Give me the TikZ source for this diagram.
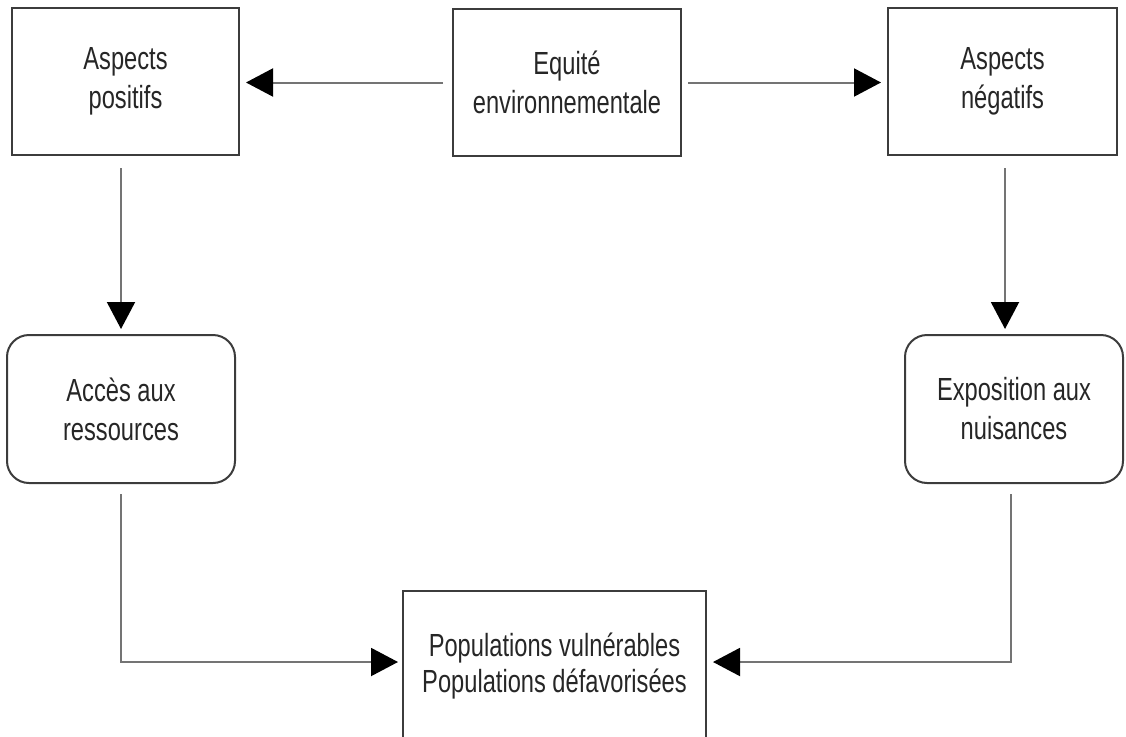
\documentclass[tikz,border=0pt]{standalone}
\usepackage{fontspec}
\setmainfont{Liberation Sans}[FakeStretch=0.74]
\usepackage{tikz}
\usetikzlibrary{arrows.meta}
\definecolor{boxgray}{HTML}{3C3C3C}
\definecolor{linkgray}{HTML}{747474}
\definecolor{txtgray}{HTML}{262626}

\begin{document}
\begin{tikzpicture}[x=1pt, y=-1pt,
  box/.style={draw=boxgray, line width=2pt, inner sep=0pt, align=center,
    text=txtgray, font=\fontsize{32}{39}\selectfont},
  rbox/.style={box, rounded corners=22pt},
  link/.style={draw=linkgray, line width=2pt,
    -{Triangle[length=27pt, width=28pt, color=black]}}]
  \useasboundingbox (0, 0) rectangle (1126, 736);
  \clip (0, 0) rectangle (1126, 736);
  % boxes
  \node[box, minimum width=227pt, minimum height=147pt] (pos) at (125.5, 81.5) {Aspects\\positifs};
  \node[box, minimum width=228pt, minimum height=147pt] (equite) at (567, 82.5) {Equité\\environnementale};
  \node[box, minimum width=229pt, minimum height=147pt] (neg) at (1002.5, 81.5) {Aspects\\négatifs};
  \node[rbox, minimum width=228pt, minimum height=148pt] (acces) at (121, 409) {Accès aux\\ressources};
  \node[rbox, minimum width=218pt, minimum height=148pt] (expo) at (1014, 409) {Exposition aux\\nuisances};
  \node[box, minimum width=303pt, minimum height=160pt, text depth=0pt] (pop) at (554.5, 671)
    {\raisebox{16pt}{\shortstack{Populations vulnérables\\[3pt]Populations défavorisées}}};
  % arrows
  \draw[link, shorten <=9pt, shorten >=6pt] (equite.west) -- (equite.west -| pos.east);
  \draw[link, shorten <=6pt, shorten >=6pt] (equite.east) -- (equite.east -| neg.west);
  \draw[link, shorten <=12pt, shorten >=5pt] (acces.north |- pos.south) -- (acces.north);
  \draw[link, shorten <=12pt, shorten >=5pt] ([xshift=2.5pt]neg.south) -- ([xshift=2.5pt]neg.south |- expo.north);
  \draw[link, shorten <=10pt, shorten >=4pt] (acces.south) |- ([yshift=9pt]pop.west);
  \draw[link, shorten <=10pt, shorten >=6pt] ([xshift=-3pt]expo.south) |- ([yshift=9pt]pop.east);
\end{tikzpicture}
\end{document}
